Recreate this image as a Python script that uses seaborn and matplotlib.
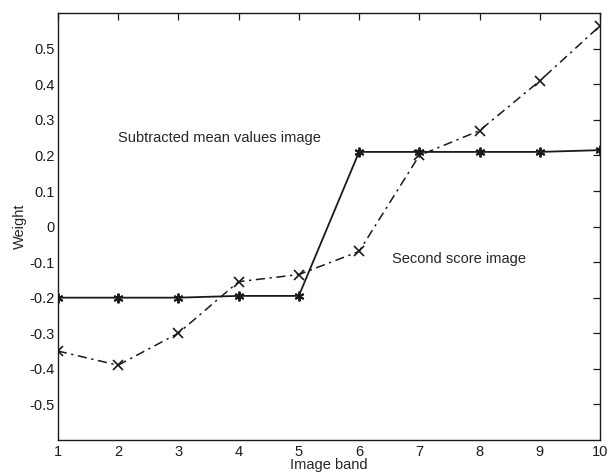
import matplotlib
matplotlib.use("Agg")
import matplotlib.pyplot as plt
import seaborn as sns

# image bands and the two weight curves
bands = [1, 2, 3, 4, 5, 6, 7, 8, 9, 10]
mean_values = [-0.20, -0.20, -0.20, -0.195, -0.195, 0.21, 0.21, 0.21, 0.21, 0.215]
second_score = [-0.35, -0.39, -0.30, -0.155, -0.135, -0.07, 0.20, 0.27, 0.41, 0.565]
ytick_vals = [-0.5, -0.4, -0.3, -0.2, -0.1, 0, 0.1, 0.2, 0.3, 0.4, 0.5]

sns.set_theme(style="white")
plt.rcParams["font.family"] = ["Liberation Sans", "DejaVu Sans"]

fig, ax = plt.subplots(figsize=(6.08, 4.74), dpi=100)

sns.lineplot(x=bands, y=mean_values, ax=ax, color="#1a1a1a", linewidth=1.3,
             marker=(6, 2, 0), markersize=7, markeredgewidth=1.4,
             markeredgecolor="#1a1a1a")
sns.lineplot(x=bands, y=second_score, ax=ax, color="#1a1a1a", linewidth=1.1,
             linestyle="-.", marker="x", markersize=7, markeredgewidth=1.2,
             markeredgecolor="#1a1a1a")
ax.lines[1].set_dashes([6, 3, 1.5, 3])

ax.text(2.0, 0.25, "Subtracted mean values image", fontsize=10.5, va="center")
ax.text(6.55, -0.092, "Second score image", fontsize=10.5, va="center")

ax.set_xlim(1, 10)
ax.set_ylim(-0.6, 0.6)
ax.set_xticks(bands)
ax.set_yticks(ytick_vals)
ax.set_yticklabels(["0" if v == 0 else f"{v:g}" for v in ytick_vals])
ax.set_xlabel("Image band", fontsize=10.5, labelpad=-1)
ax.set_ylabel("Weight", fontsize=10.5, labelpad=2)
ax.tick_params(direction="in", length=5, width=0.9, top=True, right=True,
               labelsize=10.5, colors="#1a1a1a")
ax.tick_params(axis="y", pad=2)
ax.tick_params(axis="x", pad=4)
for s in ax.spines.values():
    s.set_color("#1a1a1a")
    s.set_linewidth(1.0)

fig.subplots_adjust(left=0.095, right=0.987, top=0.972, bottom=0.072)
fig.savefig("out.png", dpi=100)
